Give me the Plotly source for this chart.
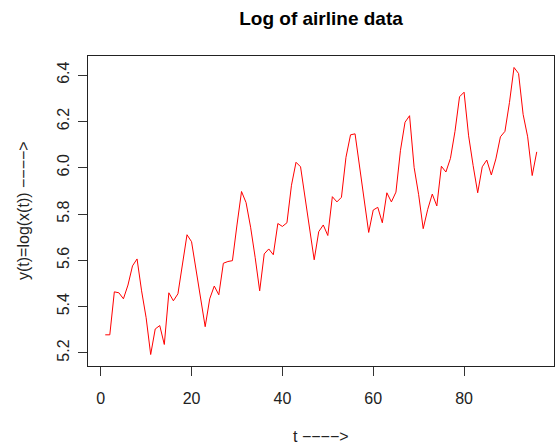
import plotly.graph_objects as go

t = list(range(1, 97))
log_passengers = [
    5.2781, 5.2781, 5.4638, 5.4596, 5.4337, 5.4931, 5.5759, 5.6058, 5.4681, 5.3519, 5.1930, 5.3033,
    5.3181, 5.2364, 5.4596, 5.4250, 5.4553, 5.5759, 5.7104, 5.6802, 5.5568, 5.4337, 5.3132, 5.4337,
    5.4889, 5.4510, 5.5872, 5.5947, 5.5984, 5.7526, 5.8972, 5.8493, 5.7430, 5.6131, 5.4681, 5.6276,
    5.6490, 5.6240, 5.7589, 5.7462, 5.7621, 5.9243, 6.0234, 6.0039, 5.8721, 5.7236, 5.6021, 5.7236,
    5.7526, 5.7071, 5.8749, 5.8522, 5.8721, 6.0450, 6.1420, 6.1463, 6.0014, 5.8493, 5.7203, 5.8171,
    5.8289, 5.7621, 5.8916, 5.8522, 5.8944, 6.0753, 6.1964, 6.2246, 6.0014, 5.8833, 5.7366, 5.8201,
    5.8861, 5.8348, 6.0064, 5.9814, 6.0403, 6.1570, 6.3063, 6.3261, 6.1377, 6.0088, 5.8916, 6.0039,
    6.0331, 5.9687, 6.0379, 6.1334, 6.1570, 6.2823, 6.4329, 6.4069, 6.2305, 6.1334, 5.9661, 6.0684,
]
x_ticks = [0, 20, 40, 60, 80]
y_ticks = [5.2, 5.4, 5.6, 5.8, 6.0, 6.2, 6.4]
y_tick_text = ["5.2", "5.4", "5.6", "5.8", "6.0", "6.2", "6.4"]

font = "Liberation Sans, Arial, sans-serif"

fig = go.Figure(go.Scatter(x=t, y=log_passengers, mode="lines",
                           line=dict(color="#ff0000", width=1)))

fig.update_layout(
    width=556, height=446,
    margin=dict(l=88, r=2, t=56, b=80),
    paper_bgcolor="white", plot_bgcolor="white",
    showlegend=False,
    font=dict(family=font, size=16, color="black"),
    title=dict(text="<b>Log of airline data</b>", x=(88 + 554) / 2 / 556, xanchor="center",
               y=1 - 18 / 446, yanchor="middle", font=dict(size=19, family=font)),
    annotations=[
        dict(text="t \u2212\u2212\u2212\u2212>", xref="paper", yref="paper", x=0.5, y=0,
             xanchor="center", yanchor="middle", yshift=-70, showarrow=False,
             font=dict(size=16, color="#222")),
        dict(text="y(t)=log(x(t)) \u2212\u2212\u2212\u2212>", xref="paper", yref="paper",
             x=0, y=0.5, xanchor="center", yanchor="middle", xshift=-65, textangle=-90,
             showarrow=False, font=dict(size=16, color="#222")),
    ],
)
fig.update_xaxes(
    range=[-2.8, 99.8], tickvals=x_ticks, ticks="outside", ticklen=9, tickwidth=1,
    tickcolor="#333", showgrid=False, zeroline=False, showline=True, linecolor="#222",
    linewidth=1, mirror=True, tickfont=dict(size=16, color="#222"), automargin=False,
    ticklabelstandoff=9,
)
fig.update_yaxes(
    range=[5.1434, 6.4825], tickvals=y_ticks, ticktext=y_tick_text, ticks="outside",
    ticklen=9, tickwidth=1, tickcolor="#333", showgrid=False, zeroline=False,
    showline=True, linecolor="#222", linewidth=1, mirror=True, tickangle=-90,
    tickfont=dict(size=16, color="#222"), automargin=False, ticklabelstandoff=3,
)

fig.write_html("out.html", config={"displayModeBar": False},
               post_script="document.body.style.margin='0';")
